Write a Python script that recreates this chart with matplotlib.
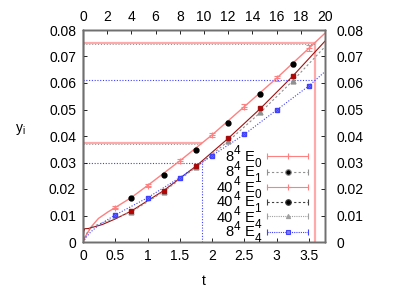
import matplotlib
matplotlib.use("Agg")
import matplotlib.pyplot as plt
from matplotlib.transforms import IdentityTransform

plt.rcParams['font.family'] = ['Liberation Sans', 'DejaVu Sans']
plt.rcParams['mathtext.fontset'] = 'custom'
plt.rcParams['mathtext.rm'] = 'Liberation Sans'
plt.rcParams['mathtext.it'] = 'Liberation Sans:italic'

# ---- data ----
t_e0 = [0.5, 1.0, 1.5, 2.0, 2.5, 3.0, 3.5]
y_e0 = [0.0130, 0.0213, 0.0306, 0.0404, 0.0511, 0.0618, 0.0731]
err_e0 = [0.0004, 0.0005, 0.0006, 0.0007, 0.0009, 0.0010, 0.0012]

t_e1 = [0.75, 1.25, 1.75, 2.25, 2.75, 3.25]
y_e1_8 = [0.0165, 0.0253, 0.0348, 0.0450, 0.0557, 0.0670]
err_e1_8 = [0.0003, 0.0004, 0.0004, 0.0005, 0.0006, 0.0007]
y_e1_40 = [0.0117, 0.0194, 0.0286, 0.0391, 0.0504, 0.0626]
y_e4_40 = [0.0114, 0.0190, 0.0282, 0.0380, 0.0489, 0.0608]

t_e4_8 = [0.5, 1.0, 1.5, 2.0, 2.5, 3.0, 3.5]
y_e4_8 = [0.0102, 0.0167, 0.0243, 0.0326, 0.0406, 0.0498, 0.0589]

# curves
t_c0 = [0.0, 0.02, 0.055, 0.13, 0.24, 0.39, 0.5, 0.75, 1.0, 1.5, 2.0, 2.5, 3.0, 3.5, 3.75]
y_c0 = [0.0, 0.0013, 0.0028, 0.0058, 0.0089, 0.0114, 0.0130, 0.0168, 0.0213, 0.0306, 0.0404, 0.0511, 0.0618, 0.0731, 0.0788]

t_c1 = [0.0, 0.012, 0.025, 0.085, 0.3, 0.5, 0.75, 1.25, 1.75, 2.25, 2.75, 3.25, 3.75]
y_c1 = [0.0, 0.0040, 0.0050, 0.0051, 0.0066, 0.0087, 0.0117, 0.0194, 0.0286, 0.0391, 0.0504, 0.0626, 0.0758]

t_c4 = [0.0, 0.05, 0.12, 0.25, 0.5, 0.75, 1.25, 1.75, 2.25, 2.75, 3.25, 3.75]
y_c4 = [0.0, 0.0030, 0.0055, 0.0068, 0.0090, 0.0114, 0.0190, 0.0282, 0.0380, 0.0489, 0.0608, 0.0737]

t_cb = [0.0, 0.05, 0.12, 0.25, 0.5, 1.0, 1.5, 2.0, 2.5, 3.0, 3.5, 3.75]
y_cb = [0.0, 0.0018, 0.0038, 0.0065, 0.0102, 0.0167, 0.0243, 0.0326, 0.0406, 0.0498, 0.0589, 0.0643]

# reference lines
y_hi_red, t_hi_red = 0.0752, 3.595
y_lo_red, t_lo_red = 0.03725, 1.83
y_hi_blue, t_hi_blue = 0.0610, 3.58
y_lo_blue, t_lo_blue = 0.0297, 1.85

# legend labels: (lattice size, power, E index)
leg_base = ['8', '8', '40', '40', '40', '8']
leg_sup = ['4', '4', '4', '4', '4', '4']
leg_sub = ['0', '1', '0', '1', '4', '4']

LRED = '#ff8080'
DRED = '#a01010'
GRAY = '#909090'
BLUE = '#4040ff'

W, H = 415, 291
fig = plt.figure(figsize=(W / 100, H / 100), dpi=100)
ax = fig.add_axes([83/W, 1-242/H, 242/W, 212/H])

# reference lines
ax.plot([0, t_hi_red], [y_hi_red, y_hi_red], color='#ffaaaa', lw=1.6, zorder=1)
ax.plot([t_hi_red, t_hi_red], [0, y_hi_red], color='#ffaaaa', lw=1.6, zorder=1)
ax.plot([0, t_hi_red], [y_hi_red - 0.0004, y_hi_red - 0.0004], color=GRAY, lw=0.7, ls=(0, (1, 2)), zorder=1)
ax.plot([0, t_lo_red], [y_lo_red, y_lo_red], color='#ffaaaa', lw=1.6, zorder=1)
ax.plot([0, t_lo_red], [y_lo_red - 0.0004, y_lo_red - 0.0004], color=GRAY, lw=0.7, ls=(0, (1, 2)), zorder=1)
ax.plot([0, t_hi_blue], [y_hi_blue, y_hi_blue], color=BLUE, lw=0.8, ls=(0, (1, 1.5)), zorder=1)
ax.plot([0, t_lo_blue], [y_lo_blue, y_lo_blue], color=BLUE, lw=0.8, ls=(0, (1, 1.5)), zorder=1)
ax.plot([t_lo_blue, t_lo_blue], [0, y_lo_blue], color=BLUE, lw=0.8, ls=(0, (1, 1.5)), zorder=1)

# curves
ax.plot(t_c0, y_c0, color=LRED, lw=1.0, zorder=2)
ax.plot(t_c1, y_c1, color=DRED, lw=0.8, zorder=2)
ax.plot(t_c4, y_c4, color=GRAY, lw=0.8, ls=(0, (2, 2)), zorder=2)
ax.plot(t_cb, y_cb, color=BLUE, lw=0.8, ls=(0, (1, 1.5)), zorder=2)

# points
ax.errorbar(t_e0, y_e0, yerr=err_e0, fmt='+', color=LRED, ms=4, mew=0.8, elinewidth=0.8, capsize=2, zorder=3)
ax.errorbar(t_e1, y_e1_8, yerr=err_e1_8, fmt='o', color='black', ms=3.5, elinewidth=0.6, capsize=1.5, zorder=3)
ax.plot(t_e1, y_e4_40, marker='^', ls='none', color=GRAY, ms=3.5, zorder=3)
ax.plot(t_e1, y_e1_40, marker='s', ls='none', color='#c00000', mec=DRED, ms=3.5, zorder=4)
ax.plot(t_e4_8, y_e4_8, marker='s', ls='none', color=BLUE, mfc='#8080ff', ms=3.2, zorder=3)
ax.plot(t_e4_8, y_e4_8, marker='x', ls='none', color=BLUE, ms=3.2, mew=0.6, zorder=3)

ax.set_xlim(0, 3.75)
ax.set_ylim(0, 0.08)
ax.set_xticks([0, 0.5, 1, 1.5, 2, 2.5, 3, 3.5])
ax.set_xticklabels(['0', '0.5', '1', '1.5', '2', '2.5', '3', '3.5'])
ax.set_yticks([0, 0.01, 0.02, 0.03, 0.04, 0.05, 0.06, 0.07, 0.08])
ax.set_yticklabels(['0', '0.01', '0.02', '0.03', '0.04', '0.05', '0.06', '0.07', '0.08'])
ax.tick_params(direction='in', length=3, width=0.6, labelsize=10, pad=5)
ax.set_xlabel('t', fontsize=10, labelpad=8)
ax.set_ylabel(r'$\mathregular{y_i}$', fontsize=10, rotation=0, va='center')
ax.yaxis.set_label_coords(-0.26, 0.53)

axt = ax.twiny()
axt.set_xlim(0, 20)
axt.set_xticks(range(0, 21, 2))
axt.tick_params(direction='in', length=3, width=0.6, labelsize=10, pad=4, colors='black')
axr = ax.twinx()
axr.set_ylim(0, 0.08)
axr.set_yticks([0, 0.01, 0.02, 0.03, 0.04, 0.05, 0.06, 0.07, 0.08])
axr.set_yticklabels(['0', '0.01', '0.02', '0.03', '0.04', '0.05', '0.06', '0.07', '0.08'])
axr.tick_params(direction='in', length=3, width=0.6, labelsize=10, pad=8)

for a in (ax, axt, axr):
    for s in a.spines.values():
        s.set_linewidth(1.0)
        s.set_color('#707070')
ax.spines['left'].set_color('black')

# ---- gnuplot-style key: text right-aligned, then errorbar sample ----
styles = [dict(color=LRED, ls='-', marker='+', mfc=LRED, ms=4),
          dict(color=GRAY, ls=(0, (2, 2)), marker='o', mfc='black', ms=4),
          dict(color=LRED, ls='-', marker='+', mfc=LRED, ms=4),
          dict(color='#404040', ls=(0, (2, 2)), marker='o', mfc='black', ms=4),
          dict(color='#a0a0a0', ls=(0, (1, 1)), marker='^', mfc='#a0a0a0', ms=3),
          dict(color=BLUE, ls=(0, (1, 1)), marker='s', mfc='#8080ff', ms=3)]
row_px = [156, 171.5, 186.5, 201.5, 216.5, 231.5]   # pixel rows from top
x_line0, x_line1, x_text = 267.5, 307.5, 261.0
r = fig.canvas.get_renderer()
idt = IdentityTransform()
for i, st in enumerate(styles):
    yc = H - row_px[i]
    fa0 = ax.transAxes.inverted().transform((x_line0, yc))
    fa1 = ax.transAxes.inverted().transform((x_line1, yc))
    ax.plot([fa0[0], fa1[0]], [fa0[1], fa1[1]], transform=ax.transAxes, color=st['color'],
            ls=st['ls'], lw=0.8, marker='|', ms=5, mew=0.8, clip_on=False, zorder=5)
    ax.plot([(fa0[0] + fa1[0]) / 2], [fa0[1]], transform=ax.transAxes, ls='none',
            marker=st['marker'], ms=st['ms'], mfc=st['mfc'], mec=st['color'], mew=0.8,
            clip_on=False, zorder=6)
    base_y = yc - 5.0
    x = x_text
    t = fig.text(x, base_y - 6.0, leg_sub[i], transform=idt, ha='right', va='baseline', fontsize=8.5)
    x -= t.get_window_extent(r).width + 0.3
    t = fig.text(x, base_y, 'E', transform=idt, ha='right', va='baseline', fontsize=10.5)
    x -= t.get_window_extent(r).width + 4.0
    t = fig.text(x, base_y + 6.5, leg_sup[i], transform=idt, ha='right', va='baseline', fontsize=8.5)
    x -= t.get_window_extent(r).width + 0.5
    fig.text(x, base_y, leg_base[i], transform=idt, ha='right', va='baseline', fontsize=10.5)

fig.savefig('out.png', dpi=100)
